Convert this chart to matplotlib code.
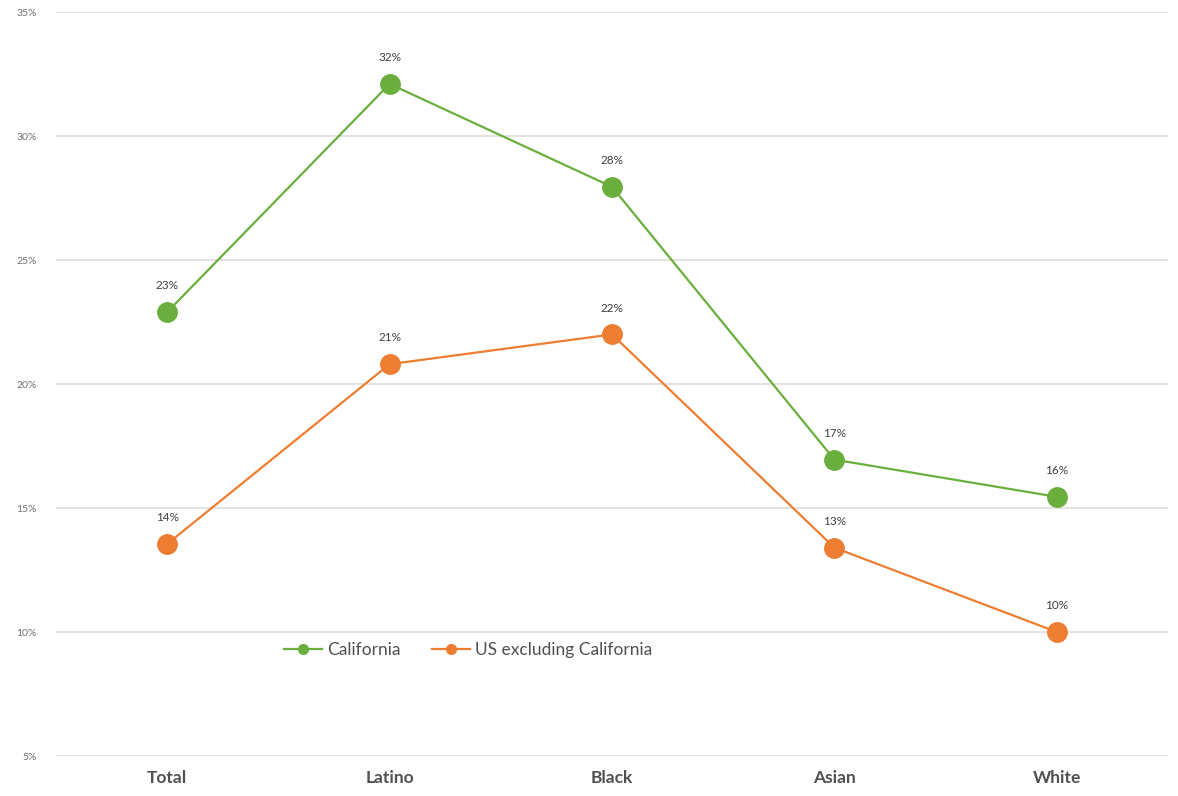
from matplotlib import pyplot as plt

categories = ['Total', 'Latino', 'Black', 'Asian', 'White']
california = [22.9, 32.1, 27.95, 16.95, 15.45]
us_excl = [13.55, 20.8, 22.0, 13.4, 10.0]
ca_labels = ['23%', '32%', '28%', '17%', '16%']
us_labels = ['14%', '21%', '22%', '13%', '10%']
yticks = [5, 10, 15, 20, 25, 30, 35]

plt.rcParams['font.family'] = ['Lato', 'DejaVu Sans']

green = '#6aaf3d'
orange = '#ed7d31'

fig = plt.figure(figsize=(11.78, 7.96), dpi=100)
ax = fig.add_axes([56/1178, 1-756/796, 1112/1178, 744/796])

x = list(range(len(categories)))
ax.plot(x, california, color=green, lw=1.6, marker='o', ms=14, label='California')
ax.plot(x, us_excl, color=orange, lw=1.6, marker='o', ms=14, label='US excluding California')

for i in x:
    ax.annotate(ca_labels[i], (i, california[i]), xytext=(0, 15), textcoords='offset points',
                ha='center', va='bottom', fontsize=8.5, color='#404040')
    ax.annotate(us_labels[i], (i, us_excl[i]), xytext=(0, 15), textcoords='offset points',
                ha='center', va='bottom', fontsize=8.5, color='#404040')

ax.set_xlim(-0.5, 4.5)
ax.set_ylim(5, 35)
ax.set_yticks(yticks)
ax.set_yticklabels([str(t) + '%' for t in yticks], fontsize=7.5, color='#707070')
ax.set_xticks(x)
ax.set_xticklabels(categories, fontsize=12.5, fontweight='bold', color='#505050')
ax.tick_params(length=0)
ax.tick_params(axis='y', pad=14)
ax.tick_params(axis='x', pad=10)
ax.yaxis.grid(True, color='#e0dcd8', lw=1.2)
ax.set_axisbelow(True)
for s in ax.spines.values():
    s.set_visible(False)

leg = fig.legend(loc='center left', bbox_to_anchor=(268/1178, 1-650/796), ncol=2,
                 frameon=False, fontsize=12.5, markerscale=0.5, handlelength=2.2,
                 handletextpad=0.3, columnspacing=1.8, labelcolor='#505050')

fig.savefig('out.png', dpi=100)
